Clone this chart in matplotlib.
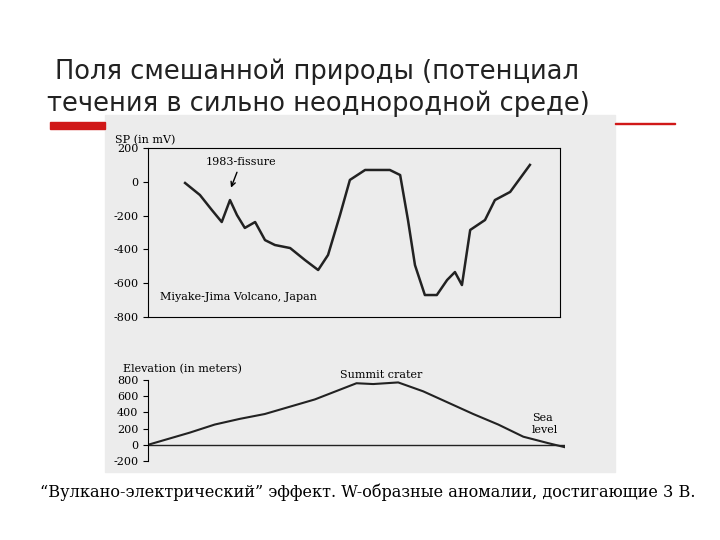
import matplotlib.pyplot as plt
from matplotlib.patches import Rectangle

plt.rcParams['axes.unicode_minus'] = False

# SP profile (distance in arbitrary units 0..100)
sp_x = [9, 12.6, 15.5, 17.9, 19.9, 21.6, 23.5, 26, 28.4, 30.8, 34.5, 38.1, 41.3, 43.7, 46.6, 49, 52.7, 58.7, 61.2, 63.1, 64.8, 67.2, 70.1, 72.6, 74.5, 76.2, 78.2, 81.8, 84.2, 87.9, 92.7]
sp_y = [-7, -78, -167, -238, -108, -197, -273, -238, -345, -374, -392, -463, -522, -433, -197, 11, 70, 70, 40, -226, -493, -670, -670, -581, -534, -611, -285, -226, -108, -60, 100]

# elevation profile
el_x = [0, 10, 16, 22, 28, 34, 40, 46, 50, 54, 60, 66, 72, 78, 84, 90, 96, 100]
el_y = [0, 150, 250, 320, 380, 470, 560, 680, 760, 750, 770, 660, 520, 380, 250, 100, 20, -30]

W, H = 720, 540
fig = plt.figure(figsize=(7.2, 5.4), dpi=100)
fig.patch.set_facecolor('white')

def box(x0, y0, x1, y1):
    return [x0 / W, 1 - y1 / H, (x1 - x0) / W, (y1 - y0) / H]

fig.text(55 / W, 1 - 72 / H, 'Поля смешанной природы (потенциал', fontsize=18.5, va='center', color='#222222')
fig.text(47 / W, 1 - 104 / H, 'течения в сильно неоднородной среде)', fontsize=18.5, va='center', color='#222222')
fig.add_artist(Rectangle((50 / W, 1 - 129 / H), 55 / W, 7 / H, color='#d01818', transform=fig.transFigure))
fig.add_artist(Rectangle((615 / W, 1 - 124 / H), 60 / W, 1.5 / H, color='#d01818', transform=fig.transFigure))
fig.add_artist(Rectangle((105 / W, 1 - 472 / H), 510 / W, 357 / H, color='#ececec', transform=fig.transFigure, zorder=-1))

ax1 = fig.add_axes(box(148, 148, 560, 317))
ax1.plot(sp_x, sp_y, color='#222222', lw=1.8)
ax1.set_xlim(0, 100)
ax1.set_ylim(-800, 200)
ax1.set_yticks([200, 0, -200, -400, -600, -800])
ax1.set_xticks([])
ax1.set_facecolor('#ececec')
ax1.tick_params(labelsize=8)
for lab in ax1.get_yticklabels():
    lab.set_family('serif')
ax1.text(-8, 215, 'SP (in mV)', fontsize=8, family='serif', va='bottom', clip_on=False)
ax1.text(3, -700, 'Miyake-Jima Volcano, Japan', fontsize=8, family='serif')
ax1.annotate('1983-fissure', xy=(19.9, -50), xytext=(14, 100), fontsize=8, family='serif',
             arrowprops=dict(arrowstyle='->', color='black'))

ax2 = fig.add_axes(box(148, 380, 565, 461))
ax2.plot(el_x, el_y, color='#222222', lw=1.5)
ax2.axhline(0, color='#222222', lw=1)
ax2.set_xlim(0, 100)
ax2.set_ylim(-200, 800)
ax2.set_yticks([800, 600, 400, 200, 0, -200])
ax2.set_xticks([])
ax2.set_facecolor('#ececec')
for s in ['top', 'right', 'bottom']:
    ax2.spines[s].set_visible(False)
ax2.tick_params(labelsize=8)
for lab in ax2.get_yticklabels():
    lab.set_family('serif')
ax2.text(-6, 900, 'Elevation (in meters)', fontsize=8, family='serif', clip_on=False)
ax2.text(46, 820, 'Summit crater', fontsize=8, family='serif', clip_on=False)
ax2.text(92, 150, 'Sea\nlevel', fontsize=8, family='serif')

fig.text(40 / W, 1 - 492 / H, '“Вулкано-электрический” эффект. W-образные аномалии, достигающие 3 В.',
         fontsize=11.6, family='serif', va='center')

fig.savefig('out.png', dpi=100)
